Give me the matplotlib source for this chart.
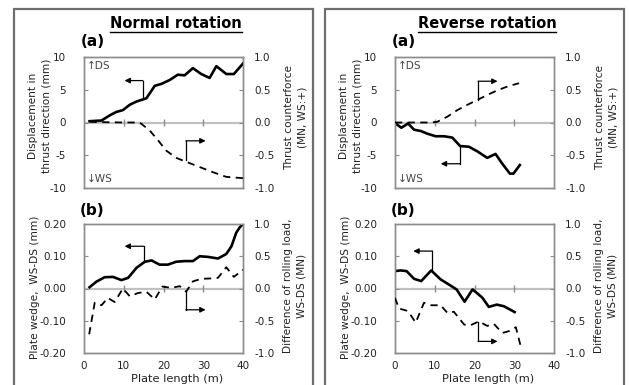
import matplotlib
matplotlib.use("Agg")
import matplotlib.pyplot as plt
from matplotlib.patches import Rectangle
from matplotlib.lines import Line2D

plt.rcParams['font.family'] = ['DejaVu Sans']
plt.rcParams['axes.unicode_minus'] = False

# ---- data ----
# Normal rotation (a)
norm_a_x = [1.4, 4.4, 6.5, 8.1, 9.8, 11.5, 13.2, 15.7, 17.8, 19.5, 21.6, 23.6, 25.3, 27.4, 29.5, 31.6, 33.3, 35.8, 37.7, 40.0]
norm_a_disp = [0.2, 0.3, 1.1, 1.6, 1.9, 2.7, 3.2, 3.7, 5.6, 5.9, 6.5, 7.3, 7.2, 8.3, 7.4, 6.8, 8.6, 7.4, 7.4, 9.0]
norm_a_fx = [1.4, 5.0, 10.0, 14.0, 16.5, 18.6, 20.7, 23.2, 25.7, 29.1, 32.5, 35.8, 40.0]
norm_a_force = [0.01, 0.005, 0.0, 0.0, -0.12, -0.27, -0.43, -0.54, -0.60, -0.68, -0.76, -0.83, -0.85]

# Normal rotation (b)
norm_b_x = [1.4, 3.1, 5.2, 7.3, 9.4, 11.1, 13.2, 15.3, 17.0, 19.0, 21.1, 23.2, 25.3, 27.4, 29.1, 31.2, 33.7, 35.8, 37.1, 38.3, 39.2, 40.0]
norm_b_wedge = [0.004, 0.021, 0.035, 0.036, 0.026, 0.033, 0.064, 0.083, 0.087, 0.074, 0.074, 0.083, 0.085, 0.085, 0.100, 0.098, 0.093, 0.107, 0.131, 0.173, 0.190, 0.200]
norm_b_lx = [1.3, 2.7, 4.4, 6.0, 7.7, 9.8, 11.5, 13.6, 15.7, 17.8, 19.7, 22.0, 24.1, 25.7, 27.4, 29.5, 31.6, 33.7, 35.8, 37.7, 40.0]
norm_b_load = [-0.71, -0.22, -0.26, -0.145, -0.21, 0.0, -0.12, -0.07, -0.05, -0.17, 0.03, 0.01, 0.036, -0.05, 0.11, 0.15, 0.155, 0.165, 0.33, 0.18, 0.29]

# Reverse rotation (a)
rev_a_x = [0, 1.6, 3.3, 4.8, 6.5, 8.1, 10.2, 12.3, 14.4, 16.4, 18.6, 20.7, 23.2, 25.3, 27.0, 28.9, 29.8, 31.4]
rev_a_disp = [-0.1, -0.8, -0.15, -1.1, -1.3, -1.7, -2.1, -2.1, -2.3, -3.6, -3.7, -4.4, -5.4, -4.8, -6.3, -7.8, -7.8, -6.5]
rev_a_fx = [0, 3.9, 9.0, 10.6, 13.2, 15.7, 18.2, 20.9, 23.2, 25.7, 28.3, 31.2]
rev_a_force = [0, 0, 0, 0.01, 0.09, 0.19, 0.27, 0.35, 0.42, 0.49, 0.55, 0.60]

# Reverse rotation (b)
rev_b_x = [0, 1.4, 2.9, 4.8, 6.6, 9.1, 11.5, 13.6, 15.5, 17.5, 19.5, 20.9, 22.0, 23.6, 25.6, 27.4, 30.1]
rev_b_wedge = [0.054, 0.056, 0.054, 0.030, 0.023, 0.056, 0.028, 0.012, -0.003, -0.041, -0.003, -0.017, -0.029, -0.057, -0.050, -0.055, -0.073]
rev_b_lx = [0, 1.0, 3.3, 5.2, 7.3, 9.1, 11.5, 13.2, 14.8, 17.4, 19.0, 21.1, 23.2, 24.9, 27.0, 28.7, 30.4, 31.6]
rev_b_load = [-0.145, -0.31, -0.35, -0.53, -0.22, -0.26, -0.26, -0.38, -0.36, -0.56, -0.57, -0.51, -0.58, -0.55, -0.69, -0.66, -0.60, -0.89]

x_ticks = [0, 10, 20, 30, 40]
disp_ticks = [-10, -5, 0, 5, 10]
wedge_ticks = [-0.2, -0.1, 0.0, 0.1, 0.2]
right_ticks = [-1.0, -0.5, 0.0, 0.5, 1.0]

W, H = 629, 385
fig = plt.figure(figsize=(W / 100, H / 100), dpi=100)

FRAME = '#8c8c8c'
TICK_FS = 7.5
LAB_FS = 7.6


def px_axes(x0, y0, x1, y1):
    # pixel box (top-left origin) -> figure axes
    return fig.add_axes([x0 / W, 1 - y1 / H, (x1 - x0) / W, (y1 - y0) / H])


def style(ax, ax2, left_ticks, left_fmt, show_x):
    ax.set_xlim(0, 40)
    ax.set_ylim(left_ticks[0], left_ticks[-1])
    ax2.set_ylim(-1, 1)
    ax.set_yticks(left_ticks)
    ax.set_yticklabels([left_fmt.format(v) for v in left_ticks])
    ax2.set_yticks(right_ticks)
    ax2.set_yticklabels(['{:.1f}'.format(v) for v in right_ticks])
    for a in (ax, ax2):
        for s in a.spines.values():
            s.set_color(FRAME)
            s.set_linewidth(1.0)
        a.tick_params(axis='y', direction='in', length=3, color=FRAME,
                      labelsize=TICK_FS, labelcolor='#222222')
    ax.tick_params(axis='y', pad=13)
    ax2.tick_params(axis='y', pad=8)
    ax.set_xticks(x_ticks)
    ax.tick_params(axis='x', length=0, labelsize=TICK_FS, labelcolor='#222222',
                   labelbottom=show_x, pad=6)
    ax.axhline(0, color='#c0c0c0', lw=1.6, zorder=1)
    ax.vlines(x_ticks[1:-1], 0.475, 0.525, color=FRAME, lw=1.0,
              transform=ax.get_xaxis_transform(), zorder=2)


def bent_arrow(ax, x, y0, y1, x_end):
    ax.plot([x, x], [y0, y1], color='black', lw=0.9, zorder=4)
    ax.annotate('', xy=(x_end, y1), xytext=(x, y1),
                arrowprops=dict(arrowstyle='-|>', color='black', lw=0.9,
                                mutation_scale=8, shrinkA=0, shrinkB=0))


def panel(dx, title, a_x, a_disp, a_fx, a_force, b_x, b_wedge, b_lx, b_load,
          arrows_a, arrows_b):
    # (a)
    ax = px_axes(84 + dx, 57, 243 + dx, 188)
    ax2 = ax.twinx()
    style(ax, ax2, disp_ticks, '{:d}', False)
    ax.plot(a_x, a_disp, color='black', lw=1.9, zorder=3)
    ax2.plot(a_fx, a_force, color='black', lw=1.3, ls=(0, (4, 3)), zorder=3)
    ax.text(0.02, 0.93, '\u2191DS', transform=ax.transAxes, fontsize=LAB_FS,
            color='#444444', va='center', ha='left')
    ax.text(0.02, 0.07, '\u2193WS', transform=ax.transAxes, fontsize=LAB_FS,
            color='#444444', va='center', ha='left')
    bent_arrow(ax, *arrows_a[0])
    bent_arrow(ax2, *arrows_a[1])

    # (b)
    bx = px_axes(84 + dx, 224, 243 + dx, 353)
    bx2 = bx.twinx()
    style(bx, bx2, wedge_ticks, '{:.2f}', True)
    bx.plot(b_x, b_wedge, color='black', lw=1.9, zorder=3)
    bx2.plot(b_lx, b_load, color='black', lw=1.3, ls=(0, (4, 3)), zorder=3)
    bent_arrow(bx, *arrows_b[0])
    bent_arrow(bx2, *arrows_b[1])

    # texts
    t = fig.text((176 + dx) / W, 1 - 23 / H, title, ha='center', va='center',
                 fontsize=10.5, fontweight='bold')
    fig.canvas.draw()
    bb = t.get_window_extent()
    yl = (bb.y0 - 1.0) / H
    fig.add_artist(Line2D([bb.x0 / W, bb.x1 / W], [yl, yl], color='black',
                          lw=1.0, transform=fig.transFigure))
    fig.text((81 + dx) / W, 1 - 42 / H, '(a)', ha='left', va='center',
             fontsize=11, fontweight='bold')
    fig.text((80 + dx) / W, 1 - 211 / H, '(b)', ha='left', va='center',
             fontsize=11, fontweight='bold')
    fig.text((40 + dx) / W, 1 - 116 / H, 'Displacement in\nthrust direction (mm)',
             rotation=90, ha='center', va='center', fontsize=LAB_FS,
             linespacing=1.4, color='#222222')
    fig.text((296 + dx) / W, 1 - 117 / H, 'Thrust counterforce\n(MN, WS:+)',
             rotation=90, ha='center', va='center', fontsize=LAB_FS,
             linespacing=1.45, color='#222222')
    fig.text((35 + dx) / W, 1 - 287 / H, 'Plate wedge,  WS-DS (mm)',
             rotation=90, ha='center', va='center', fontsize=LAB_FS,
             color='#222222')
    fig.text((295 + dx) / W, 1 - 286 / H, 'Difference of rolling load,\nWS-DS (MN)',
             rotation=90, ha='center', va='center', fontsize=LAB_FS,
             linespacing=1.45, color='#222222')
    fig.text((177 + dx) / W, 1 - 379 / H, 'Plate length (m)', ha='center',
             va='center', fontsize=8.2, color='#222222')

    fig.add_artist(Rectangle(((14 + dx) / W, -0.05), 299 / W, (385 - 9) / H + 0.05,
                             transform=fig.transFigure, fill=False,
                             ec='#6e6e6e', lw=1.6))


panel(0, 'Normal rotation', norm_a_x, norm_a_disp, norm_a_fx, norm_a_force,
      norm_b_x, norm_b_wedge, norm_b_lx, norm_b_load,
      [(14.8, 3.9, 6.4, 10.2), (25.6, -0.58, -0.28, 30.6)],
      [(15.0, 0.083, 0.131, 10.2), (25.6, -0.05, -0.33, 30.6)])

panel(311, 'Reverse rotation', rev_a_x, rev_a_disp, rev_a_fx, rev_a_force,
      rev_b_x, rev_b_wedge, rev_b_lx, rev_b_load,
      [(16.4, -3.6, -6.3, 11.5), (20.9, 0.35, 0.63, 25.8)],
      [(9.4, 0.056, 0.116, 4.6), (20.9, -0.52, -0.82, 25.8)])

fig.savefig('out.png', dpi=100)
